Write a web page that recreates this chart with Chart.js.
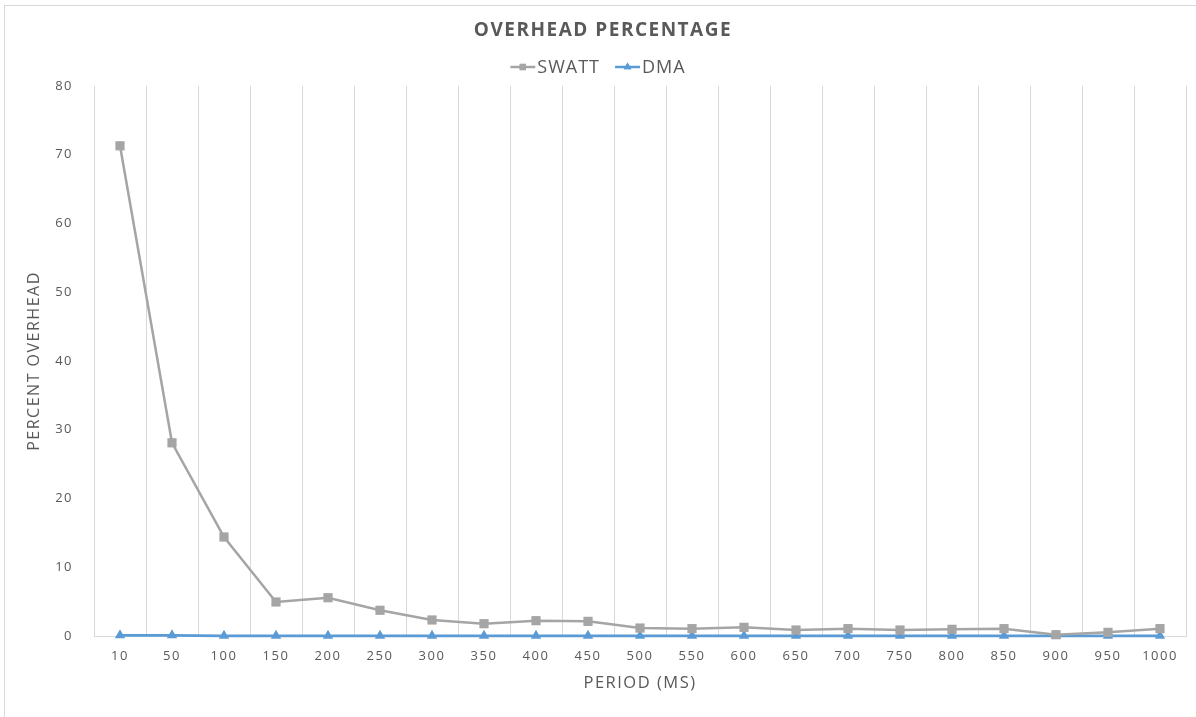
<!DOCTYPE html>
<html>
<head>
<meta charset="utf-8">
<script src="https://cdn.jsdelivr.net/npm/chart.js@4/dist/chart.umd.min.js"></script>
<style>
  html, body { margin: 0; padding: 0; background: #fff; }
  #wrap { position: relative; width: 1196px; height: 717px; }
  #frame { position: absolute; left: 4px; top: 5px; right: 0; bottom: 0; border: 1px solid #d9d9d9; border-right: none; border-bottom: none; pointer-events: none; }
</style>
</head>
<body>
<div id="wrap">
  <canvas id="chart" width="1196" height="717"></canvas>
  <div id="frame"></div>
</div>
<script>
const periods = ['10', '50', '100', '150', '200', '250', '300', '350', '400', '450', '500',
  '550', '600', '650', '700', '750', '800', '850', '900', '950', '1000'];
const swatt = [71.3, 28.1, 14.4, 4.95, 5.57, 3.74, 2.33, 1.79, 2.23, 2.13, 1.16,
  1.07, 1.26, 0.87, 1.07, 0.87, 0.97, 1.07, 0.19, 0.53, 1.07];
const dma = [0.1, 0.1, 0.03, 0.02, 0.02, 0.02, 0.02, 0.02, 0.02, 0.02, 0.02,
  0.02, 0.02, 0.02, 0.02, 0.02, 0.02, 0.02, 0.02, 0.02, 0.02];
const yTicks = [0, 10, 20, 30, 40, 50, 60, 70, 80];

const TEXT = '#595959';
const GRID = '#d9d9d9';
const FONT = "'Open Sans', sans-serif";

// the office look has slightly tracked-out text
const tracking = {
  id: 'tracking',
  beforeDraw(chart) { chart.ctx.letterSpacing = '1.5px'; },
};

// excel-style legend: short line with marker, then label
const lineLegend = {
  id: 'lineLegend',
  afterDraw(chart) {
    const { ctx } = chart;
    const y = 67;
    const sets = chart.data.datasets;
    ctx.save();
    ctx.font = `18px ${FONT}`;
    ctx.letterSpacing = '1px';
    const lineW = 25;
    const gap = 15;
    const widths = sets.map((ds) => lineW + 2 + ctx.measureText(ds.label).width);
    const total = widths.reduce((a, b) => a + b, 0) + gap * (sets.length - 1);
    let x = chart.width / 2 - total / 2;
    sets.forEach((ds, i) => {
      ctx.strokeStyle = ds.borderColor;
      ctx.lineWidth = 2.5;
      ctx.beginPath();
      ctx.moveTo(x, y);
      ctx.lineTo(x + lineW, y);
      ctx.stroke();
      ctx.fillStyle = ds.borderColor;
      Chart.helpers.drawPoint(ctx, {
        pointStyle: ds.pointStyle, radius: ds.pointStyle === 'rect' ? 4.5 : 4.5, borderWidth: 0,
      }, x + lineW / 2, y);
      ctx.fill();
      ctx.fillStyle = TEXT;
      ctx.textBaseline = 'middle';
      ctx.textAlign = 'left';
      ctx.fillText(ds.label, x + lineW + 2, y + 1);
      x += widths[i] + gap;
    });
    ctx.restore();
  },
};

new Chart(document.getElementById('chart'), {
  type: 'line',
  data: {
    labels: periods,
    datasets: [{
      label: 'SWATT',
      data: swatt,
      borderColor: '#a5a5a5',
      backgroundColor: '#a5a5a5',
      borderWidth: 2.5,
      pointStyle: 'rect',
      pointRadius: 6.5,
      pointBorderWidth: 0,
      tension: 0,
      clip: false,
    },
    {
      label: 'DMA',
      data: dma,
      borderColor: '#5b9bd5',
      backgroundColor: '#5b9bd5',
      borderWidth: 2.75,
      pointStyle: 'triangle',
      pointRadius: 6,
      pointBorderWidth: 0,
      tension: 0,
      clip: false,
    }],
  },
  plugins: [tracking, lineLegend],
  options: {
    responsive: false,
    animation: false,
    layout: {
      padding: {
        left: 20, right: 10, top: 0, bottom: 10,
      },
    },
    plugins: {
      legend: { display: false },
      tooltip: { enabled: false },
      title: {
        display: true,
        text: 'OVERHEAD PERCENTAGE',
        color: TEXT,
        font: { family: FONT, size: 19, weight: 'bold' },
        padding: { top: 19.6, bottom: 43.6 },
      },
    },
    scales: {
      x: {
        offset: true,
        grid: {
          offset: true, color: GRID, drawTicks: false, lineWidth: 1,
        },
        border: { display: true, color: GRID },
        ticks: {
          color: TEXT, font: { family: FONT, size: 13 }, padding: 12, maxRotation: 0,
        },
        title: {
          display: true,
          text: 'PERIOD (MS)',
          color: TEXT,
          font: { family: FONT, size: 16.5 },
          padding: { top: 0, bottom: 14 },
        },
        afterFit(scale) { scale.height = 71; },
      },
      y: {
        min: 0,
        max: 80,
        afterBuildTicks(scale) { scale.ticks = yTicks.map((v) => ({ value: v })); },
        grid: { display: false },
        border: { display: true, color: GRID },
        ticks: {
          color: TEXT, font: { family: FONT, size: 13 }, padding: 13,
        },
        title: {
          display: true,
          text: 'PERCENT OVERHEAD',
          color: TEXT,
          font: { family: FONT, size: 16 },
          padding: { top: 5, bottom: 0 },
        },
        afterFit(scale) { scale.width = 74; },
      },
    },
  },
});
</script>
</body>
</html>
